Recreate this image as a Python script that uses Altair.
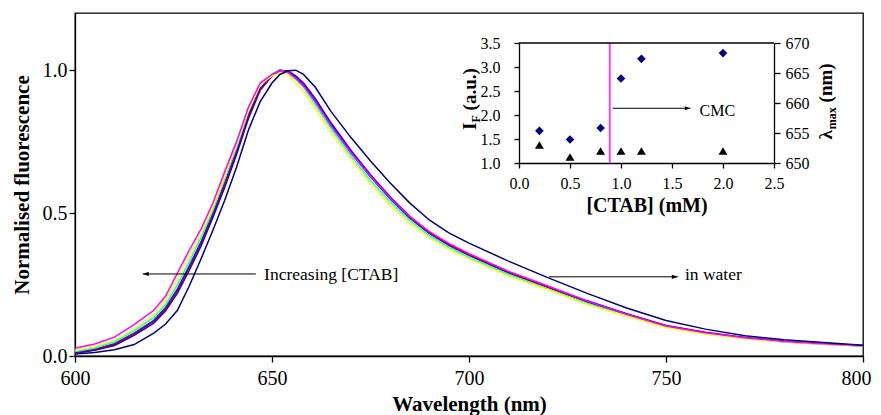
import altair as alt
import pandas as pd

FONT = "Liberation Serif"

# ---------------- main spectra ----------------
wavelengths = [600, 605, 610, 615, 620, 623, 626, 629, 632, 635, 638, 641, 644, 647, 650, 652,
               654, 656, 658, 661, 665, 670, 675, 680, 685, 690, 695, 700, 710, 720, 730, 740,
               750, 760, 770, 780, 790, 800]

water = [0.007, 0.012, 0.022, 0.040, 0.080, 0.112, 0.160, 0.245, 0.340, 0.440, 0.545, 0.660, 0.790, 0.890, 0.955, 0.985,
         0.998, 1.000, 0.985, 0.940, 0.855, 0.765, 0.682, 0.605, 0.535, 0.475, 0.430, 0.395, 0.332, 0.274, 0.219, 0.168,
         0.124, 0.094, 0.071, 0.057, 0.047, 0.038]
ctab_02 = [0.010, 0.020, 0.037, 0.072, 0.115, 0.158, 0.220, 0.300, 0.385, 0.485, 0.590, 0.705, 0.830, 0.930, 0.980, 0.998,
           0.998, 0.980, 0.955, 0.900, 0.815, 0.720, 0.634, 0.556, 0.488, 0.433, 0.390, 0.356, 0.295, 0.243, 0.193, 0.148,
           0.107, 0.083, 0.065, 0.052, 0.044, 0.037]
ctab_05 = [0.012, 0.022, 0.040, 0.077, 0.122, 0.165, 0.230, 0.310, 0.395, 0.495, 0.600, 0.715, 0.840, 0.935, 0.980, 1.000,
           0.995, 0.975, 0.950, 0.893, 0.808, 0.713, 0.627, 0.550, 0.482, 0.428, 0.386, 0.352, 0.291, 0.240, 0.190, 0.145,
           0.104, 0.080, 0.063, 0.050, 0.042, 0.035]
ctab_08 = [0.013, 0.024, 0.043, 0.080, 0.125, 0.170, 0.235, 0.315, 0.400, 0.500, 0.605, 0.720, 0.845, 0.935, 0.980, 1.000,
           0.992, 0.972, 0.948, 0.890, 0.806, 0.712, 0.628, 0.551, 0.484, 0.430, 0.388, 0.354, 0.293, 0.242, 0.190, 0.146,
           0.105, 0.081, 0.062, 0.050, 0.042, 0.036]
ctab_10 = [0.016, 0.028, 0.050, 0.088, 0.135, 0.180, 0.250, 0.330, 0.415, 0.510, 0.620, 0.730, 0.855, 0.950, 0.985, 1.000,
           0.990, 0.968, 0.940, 0.880, 0.795, 0.700, 0.614, 0.540, 0.473, 0.420, 0.379, 0.345, 0.285, 0.234, 0.184, 0.141,
           0.101, 0.078, 0.061, 0.049, 0.041, 0.035]
ctab_12 = [0.020, 0.033, 0.055, 0.095, 0.145, 0.195, 0.270, 0.350, 0.430, 0.520, 0.630, 0.740, 0.860, 0.950, 0.980, 0.990,
           0.985, 0.955, 0.925, 0.865, 0.780, 0.688, 0.602, 0.527, 0.462, 0.412, 0.372, 0.340, 0.280, 0.232, 0.180, 0.140,
           0.100, 0.077, 0.060, 0.049, 0.041, 0.035]
ctab_20 = [0.027, 0.042, 0.066, 0.110, 0.160, 0.210, 0.290, 0.370, 0.445, 0.535, 0.645, 0.750, 0.870, 0.955, 0.985, 1.000,
           0.993, 0.972, 0.945, 0.890, 0.805, 0.712, 0.629, 0.553, 0.487, 0.434, 0.393, 0.358, 0.296, 0.245, 0.192, 0.146,
           0.105, 0.081, 0.064, 0.051, 0.043, 0.036]

series_names = ["0.2 mM", "0.5 mM", "0.8 mM", "1.0 mM", "1.2 mM", "2.0 mM", "water"]
series_values = [ctab_02, ctab_05, ctab_08, ctab_10, ctab_12, ctab_20, water]
series_colors = ["#0000FF", "#800000", "#800080", "#00FFFF", "#FFFF00", "#FF00FF", "#000080"]

# ---------------- inset ----------------
ctab_conc = [0.2, 0.5, 0.8, 1.0, 1.2, 2.0]
intensity = [1.67, 1.49, 1.73, 2.76, 3.17, 3.29]
lambda_max = [653, 651, 652, 652, 652, 652]
cmc_value = 0.89

# annotations
main_arrow_start = [645.9, 720.3]
main_arrow_tip = [617.2, 753.0]
main_arrow_y = [0.287, 0.277]
main_arrow_dir = ["left", "right"]
main_text = ["Increasing [CTAB]", "in water"]
main_text_x = [648.0, 754.8]
main_text_y = [0.284, 0.284]

rows = []
for name, vals in zip(series_names, series_values):
    for w, v in zip(wavelengths, vals):
        rows.append({"series": name, "wavelength": w, "value": v})
spec_df = pd.DataFrame(rows)

inset_df = pd.DataFrame({"ctab": ctab_conc, "intensity": intensity, "lambda_max": lambda_max})

X_MAIN = alt.Scale(domain=[600, 800], nice=False, zero=False)
Y_MAIN = alt.Scale(domain=[0, 1.2], nice=False, zero=False)
X_IN = alt.Scale(domain=[0, 2.5], range=[444, 699], nice=False, zero=False)
Y_IF = alt.Scale(domain=[1, 3.5], range=[150, 30], nice=False, zero=False)
Y_LAM = alt.Scale(domain=[650, 670], range=[150, 30], nice=False, zero=False)

ARROW_L = "M 0 0 L 2 -0.7 L 2 0.7 Z"
ARROW_R = "M 0 0 L -2 -0.7 L -2 0.7 Z"

lines = alt.Chart(spec_df).mark_line(strokeWidth=1.5).encode(
    x=alt.X("wavelength:Q", scale=X_MAIN,
            axis=alt.Axis(values=[600, 650, 700, 750, 800], format="d", title="Wavelength (nm)",
                          labelFontSize=20, titleFontSize=21, titleFontWeight="bold",
                          tickSize=6, labelPadding=6, labelFlush=False,
                          labelOffset={"condition": {"test": "datum.value == 800", "value": -7}, "value": 0},
                          titleY=54, titleBaseline="alphabetic")),
    y=alt.Y("value:Q", scale=Y_MAIN,
            axis=alt.Axis(values=[0, 0.5, 1.0], format=".1f", title="Normalised fluorescence",
                          labelFontSize=20, titleFontSize=21, titleFontWeight="bold",
                          tickSize=6, labelPadding=2, titleAngle=270, titleX=-47, titleY=171.5,
                          titleBaseline="alphabetic", titleAlign="center")),
    color=alt.Color("series:N", scale=alt.Scale(domain=series_names, range=series_colors), legend=None),
)

arrow_df = pd.DataFrame({"x": main_arrow_start, "x2": main_arrow_tip, "y": main_arrow_y, "dir": main_arrow_dir})
main_rules = alt.Chart(arrow_df).mark_rule(color="black", strokeWidth=1).encode(
    x=alt.X("x:Q", scale=X_MAIN, axis=None), x2="x2:Q",
    y=alt.Y("y:Q", scale=Y_MAIN, axis=None))
main_heads = alt.Chart(arrow_df).mark_point(filled=True, size=36, color="black", opacity=1).encode(
    x=alt.X("x2:Q", scale=X_MAIN, axis=None),
    y=alt.Y("y:Q", scale=Y_MAIN, axis=None),
    shape=alt.Shape("dir:N", scale=alt.Scale(domain=["left", "right"], range=[ARROW_L, ARROW_R]), legend=None))
text_df = pd.DataFrame({"x": main_text_x, "y": main_text_y, "label": main_text})
main_texts = alt.Chart(text_df).mark_text(align="left", baseline="middle", font=FONT, fontSize=17.5, color="black").encode(
    x=alt.X("x:Q", scale=X_MAIN, axis=None),
    y=alt.Y("y:Q", scale=Y_MAIN, axis=None),
    text="label:N")

# inset layers
diamonds = alt.Chart(inset_df).mark_point(shape="diamond", filled=True, size=75, color="#000080", opacity=1).encode(
    x=alt.X("ctab:Q", scale=X_IN,
            axis=alt.Axis(orient="bottom", offset=-193, values=[0, 0.5, 1.0, 1.5, 2.0, 2.5], format=".1f",
                          title="[CTAB] (mM)", labelFontSize=16, titleFontSize=20, titleFontWeight="bold",
                          tickSize=5, labelPadding=7, labelFlush=False, titleY=48, titleBaseline="alphabetic")),
    y=alt.Y("intensity:Q", scale=Y_IF,
            axis=alt.Axis(orient="left", offset=-444, values=[1.0, 1.5, 2.0, 2.5, 3.0, 3.5], format=".1f",
                          title=None, labelFontSize=16, tickSize=5, labelPadding=14)))
triangles = alt.Chart(inset_df).mark_point(shape="triangle-up", filled=True, size=80, color="black", opacity=1).encode(
    x=alt.X("ctab:Q", scale=X_IN, axis=None),
    y=alt.Y("lambda_max:Q", scale=Y_LAM,
            axis=alt.Axis(orient="right", offset=-89, values=[650, 655, 660, 665, 670], format="d",
                          title=None, labelFontSize=16, tickSize=6, labelPadding=5)))

cmc_df = pd.DataFrame({"x": [cmc_value], "y": [1.0], "y2": [3.5]})
cmc_rule = alt.Chart(cmc_df).mark_rule(color="#FF40FF", strokeWidth=2).encode(
    x=alt.X("x:Q", scale=X_IN, axis=None),
    y=alt.Y("y:Q", scale=Y_IF, axis=None), y2="y2:Q")

top_df = pd.DataFrame({"x": [0.0], "x2": [2.5], "y": [3.5]})
top_border = alt.Chart(top_df).mark_rule(color="black", strokeWidth=1.3).encode(
    x=alt.X("x:Q", scale=X_IN, axis=None), x2="x2:Q",
    y=alt.Y("y:Q", scale=Y_IF, axis=None))

in_arrow_df = pd.DataFrame({"x": [0.92], "x2": [1.68], "y": [2.14], "dir": ["right"]})
in_rule = alt.Chart(in_arrow_df).mark_rule(color="black", strokeWidth=1).encode(
    x=alt.X("x:Q", scale=X_IN, axis=None), x2="x2:Q",
    y=alt.Y("y:Q", scale=Y_IF, axis=None))
in_head = alt.Chart(in_arrow_df).mark_point(filled=True, size=30, color="black", opacity=1, shape=ARROW_R).encode(
    x=alt.X("x2:Q", scale=X_IN, axis=None),
    y=alt.Y("y:Q", scale=Y_IF, axis=None))
cmc_text_df = pd.DataFrame({"x": [1.77], "y": [2.075], "label": ["CMC"]})
cmc_text = alt.Chart(cmc_text_df).mark_text(align="left", baseline="middle", font=FONT, fontSize=16, color="black").encode(
    x=alt.X("x:Q", scale=X_IN, axis=None),
    y=alt.Y("y:Q", scale=Y_IF, axis=None),
    text="label:N")

# rotated inset axis titles with subscripts
def title_piece(df, yscale, label, size, dx, dy):
    return alt.Chart(df).mark_text(angle=270, align="left", baseline="alphabetic", font=FONT,
                                   fontWeight="bold", fontSize=size, dx=dx, dy=dy, color="black").encode(
        x=alt.X("x:Q", scale=X_IN, axis=None),
        y=alt.Y("y:Q", scale=yscale, axis=None),
        text=alt.value(label))

left_title_df = pd.DataFrame({"x": [-0.42], "y": [1.69]})
right_title_df = pd.DataFrame({"x": [3.07], "y": [653.9]})
left_title = [
    title_piece(left_title_df, Y_IF, "I", 19, 0, 0),
    title_piece(left_title_df, Y_IF, "F", 12, 7.4, 4),
    title_piece(left_title_df, Y_IF, "(a.u.)", 19, 19.5, 0),
]
right_title = [
    title_piece(right_title_df, Y_LAM, "λ", 19, 0, 0),
    title_piece(right_title_df, Y_LAM, "max", 12, 10.4, 4),
    title_piece(right_title_df, Y_LAM, "(nm)", 19, 37.2, 0),
]

chart = alt.layer(
    lines, main_rules, main_heads, main_texts,
    diamonds, triangles, cmc_rule, top_border, in_rule, in_head, cmc_text,
    *left_title, *right_title,
).resolve_scale(
    x="independent", y="independent"
).properties(
    width=788, height=343,
    autosize=alt.AutoSizeParams(type="none"),
    padding={"left": 67, "top": 5, "right": 10, "bottom": 59},
).configure_view(
    stroke="black", strokeWidth=1.3
).configure_axis(
    domainColor="black", tickColor="black", labelColor="black", titleColor="black",
    grid=False, labelFont=FONT, titleFont=FONT, domainWidth=1.3, tickWidth=1.3,
)

chart.save("out.html", embed_options={"renderer": "svg", "actions": False})
